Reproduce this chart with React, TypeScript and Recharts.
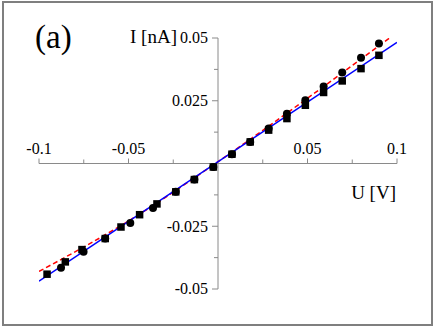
import React from "react";
import { ComposedChart, Scatter, Line, XAxis, YAxis, ReferenceLine } from "recharts";

// ---- data ----
const circleU = [-0.0877, -0.0751, -0.063, -0.049, -0.0363, -0.0236, -0.0132, -0.0026, 0.0078, 0.018, 0.0283, 0.0385, 0.0488, 0.059, 0.0694, 0.0799, 0.0899];
const circleI = [-0.0415, -0.0352, -0.0299, -0.0237, -0.0177, -0.0113, -0.0064, -0.0014, 0.0037, 0.0086, 0.0139, 0.0198, 0.0252, 0.0307, 0.0363, 0.0421, 0.0478];

const squareU = [-0.0955, -0.0853, -0.076, -0.063, -0.0542, -0.0438, -0.0341, -0.0236, -0.0132, -0.0026, 0.0078, 0.018, 0.0283, 0.0385, 0.0488, 0.059, 0.0694, 0.0799, 0.0899];
const squareI = [-0.0441, -0.0392, -0.0343, -0.0299, -0.0253, -0.0204, -0.0161, -0.0113, -0.0064, -0.0014, 0.0037, 0.0086, 0.0133, 0.0179, 0.0232, 0.0283, 0.0329, 0.0378, 0.0431];

const blueU = [-0.1, 0.1];
const blueI = [-0.0469, 0.0483];

const redU = [-0.1, -0.05, 0, 0.05, 0.1];
const redI = [-0.043, -0.0229, 0.0007, 0.026, 0.0522];

const xTicks = [-0.1, -0.075, -0.05, -0.025, 0.025, 0.05, 0.075, 0.1];
const xTickLabels: Record<string, string> = { "-0.1": "-0.1", "-0.05": "-0.05", "0.05": "0.05", "0.1": "0.1" };
const yTicks = [-0.05, -0.0375, -0.025, -0.0125, 0.0125, 0.025, 0.0375, 0.05];
const yTickLabels: Record<string, string> = { "-0.05": "-0.05", "-0.025": "-0.025", "0.025": "0.025", "0.05": "0.05" };

const xLabel = "U [V]";
const yLabel = "I [nA]";
const panelLabel = "(a)";

// ---- layout ----
const W = 436;
const H = 328;
const M = { top: 38, right: 39, bottom: 38, left: 38 };
const PLOT_LEFT = 39;
const PLOT_TOP = 38;
const PLOT_W = W - PLOT_LEFT - M.right;
const PLOT_H = H - PLOT_TOP - 39;
const X0 = PLOT_LEFT + PLOT_W / 2;
const Y0 = PLOT_TOP + PLOT_H / 2;
const AXIS = "#8a8a8a";
const FONT = "Liberation Serif, DejaVu Serif, Times New Roman, serif";

const zip = (u: number[], i: number[]) => u.map((x, k) => ({ x, y: i[k] }));
const circles = zip(circleU, circleI);
const squares = zip(squareU, squareI);
const blue = zip(blueU, blueI);
const red = zip(redU, redI);

const renderXTick = (props: any) => {
  const { x, payload } = props;
  const key = String(payload.value);
  const label = xTickLabels[key];
  return (
    <g key={"xt" + key}>
      <line x1={x} x2={x} y1={Y0} y2={Y0 - (label ? 5 : 4)} stroke={AXIS} strokeWidth={1} />
      {label && (
        <text x={x} y={Y0 - 10} textAnchor="middle" fontSize={16} style={{ fontFamily: FONT }} fill="#000">
          {label}
        </text>
      )}
    </g>
  );
};

const renderYTick = (props: any) => {
  const { y, payload } = props;
  const key = String(payload.value);
  const label = yTickLabels[key];
  return (
    <g key={"yt" + key}>
      <line x1={X0} x2={X0 - (label ? 6 : 4)} y1={y} y2={y} stroke={AXIS} strokeWidth={1} />
      {label && (
        <text x={X0 - 10} y={y} dy="0.33em" textAnchor="end" fontSize={16} style={{ fontFamily: FONT }} fill="#000">
          {label}
        </text>
      )}
    </g>
  );
};

const CircleShape = (props: any) => <circle cx={props.cx} cy={props.cy} r={4} fill="#000" />;
const SquareShape = (props: any) => (
  <rect x={props.cx - 3.75} y={props.cy - 3.75} width={7.5} height={7.5} fill="#000" />
);

export default function App() {
  return (
    <div style={{ position: "absolute", left: 0, top: 0, width: W, height: H, background: "#fff" }}>
      <div
        style={{
          position: "absolute",
          left: 2,
          top: 1,
          width: 431,
          height: 325,
          border: "2px solid #7f7f7f",
          boxSizing: "border-box",
        }}
      />
      <div style={{ position: "absolute", left: 0, top: 0 }}>
        <ComposedChart width={W} height={H} margin={M}>
          <XAxis
            type="number"
            dataKey="x"
            domain={[-0.1, 0.1]}
            allowDataOverflow
            ticks={xTicks}
            interval={0}
            height={1}
            axisLine={false}
            tickLine={false}
            tick={renderXTick}
          />
          <YAxis
            type="number"
            dataKey="y"
            domain={[-0.05, 0.05]}
            allowDataOverflow
            ticks={yTicks}
            interval={0}
            width={1}
            axisLine={false}
            tickLine={false}
            tick={renderYTick}
          />
          <ReferenceLine y={0} stroke={AXIS} strokeWidth={1} />
          <ReferenceLine x={0} stroke={AXIS} strokeWidth={1} />
          <Scatter data={squares} dataKey="y" shape={<SquareShape />} isAnimationActive={false} />
          <Scatter data={circles} dataKey="y" shape={<CircleShape />} isAnimationActive={false} />
          <Line
            data={red}
            dataKey="y"
            type="monotone"
            stroke="#ff0000"
            strokeWidth={1.5}
            strokeDasharray="5 3"
            dot={false}
            isAnimationActive={false}
          />
          <Line
            data={blue}
            dataKey="y"
            type="linear"
            stroke="#0000ff"
            strokeWidth={1.5}
            dot={false}
            isAnimationActive={false}
          />
        </ComposedChart>
      </div>
      <svg width={W} height={H} style={{ position: "absolute", left: 0, top: 0, pointerEvents: "none", fontFamily: FONT }}>
        <text x={35} y={48} fontSize={33} fill="#000">
          {panelLabel}
        </text>
        <text x={177} y={43} textAnchor="end" fontSize={19} fill="#000">
          {yLabel}
        </text>
        <text x={396} y={199} textAnchor="end" fontSize={19} fill="#000">
          {xLabel}
        </text>
      </svg>
    </div>
  );
}
